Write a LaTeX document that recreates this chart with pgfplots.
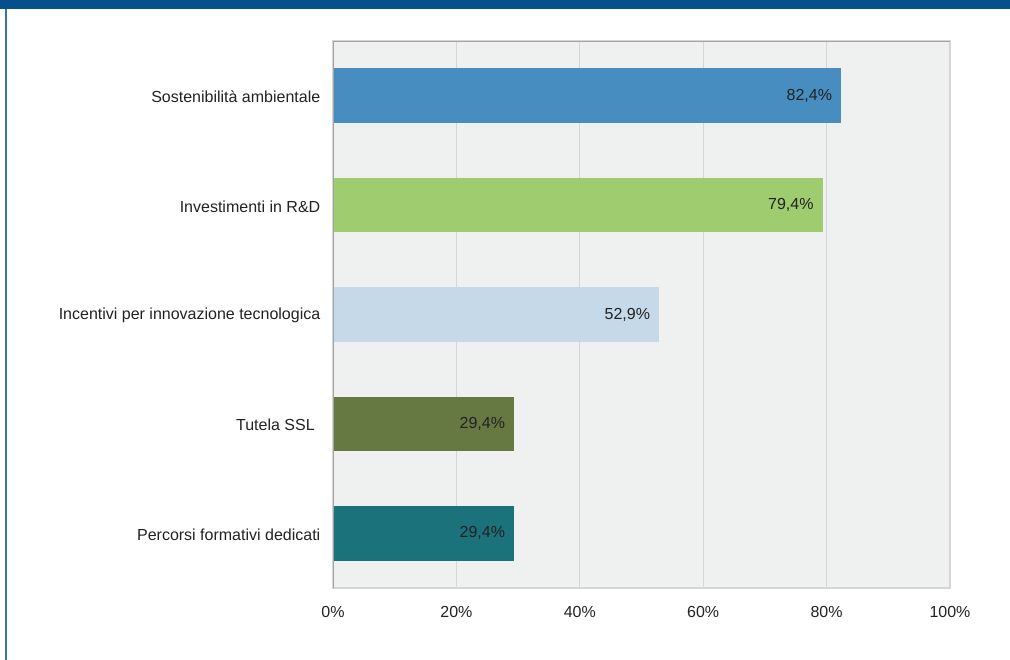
\documentclass[border=0pt]{standalone}
\usepackage{pgfplots}
\pgfplotsset{compat=1.18}
\usepackage{fontspec}
\setmainfont{Liberation Sans}

\definecolor{band}{HTML}{04508A}
\definecolor{frameline}{HTML}{3A72A0}
\definecolor{plotbg}{HTML}{EFF0F0}
\definecolor{gridc}{HTML}{D6D6D6}
\definecolor{axisc}{HTML}{A3A3A3}
\definecolor{cA}{HTML}{478DBF}
\definecolor{cB}{HTML}{9FCC6E}
\definecolor{cC}{HTML}{C5D9E8}
\definecolor{cD}{HTML}{677942}
\definecolor{cE}{HTML}{1C727A}
\definecolor{txt}{HTML}{222222}

\begin{document}
\begin{tikzpicture}[x=0.75pt,y=0.75pt]
% cornice della pagina (pixel a 0.75pt)
\useasboundingbox (0,0) rectangle (1010,660);
\fill[band] (0,651) rectangle (1010,660);
\draw[frameline, line width=1.2pt] (6,0) -- (6,651);

\begin{axis}[
    at={(249.75pt,54pt)}, anchor=south west,
    scale only axis,
    width=462.75pt, height=410.25pt,
    xbar, bar shift=0pt, bar width=0.5,
    xmin=0, xmax=100,
    ymin=-0.5, ymax=4.5,
    y dir=reverse,
    /pgf/number format/assume math mode=true,
    axis background/.style={fill=plotbg},
    axis line style={draw=gridc, line width=0.8pt},
    xmajorgrids, grid style={draw=gridc, line width=0.8pt},
    major tick length=0pt,
    xtick={0,20,40,60,80,100},
    xticklabel={\pgfmathprintnumber{\tick}\%},
    xticklabel style={font=\fontsize{12}{14}\selectfont, text=txt, yshift=-10pt},
    ytick={0,1,2,3,4},
    yticklabels={Sostenibilità ambientale, Investimenti in R\&D, Incentivi per innovazione tecnologica, Tutela SSL\makebox[0.35em]{}, Percorsi formativi dedicati},
    yticklabel style={font=\fontsize{12}{14}\selectfont, text=txt, xshift=-6pt, yshift=-1pt},
    nodes near coords={\pgfmathprintnumber[fixed, precision=1, zerofill, use comma]{\pgfplotspointmeta}\%},
    nodes near coords style={anchor=east, xshift=-3.5pt, font=\fontsize{12}{14}\selectfont, text=txt},
    point meta=x,
]
\addplot[fill=cA, draw=none] coordinates {(82.4,0)};
\addplot[fill=cB, draw=none] coordinates {(79.4,1)};
\addplot[fill=cC, draw=none] coordinates {(52.9,2)};
\addplot[fill=cD, draw=none] coordinates {(29.4,3)};
\addplot[fill=cE, draw=none] coordinates {(29.4,4)};
% assi sinistro e inferiore piu scuri
\draw[axisc, line width=0.9pt] (rel axis cs:0,0) -- (rel axis cs:0,1);
\draw[axisc, line width=0.9pt] (rel axis cs:0,1) -- (rel axis cs:1,1);
\end{axis}
\end{tikzpicture}
\end{document}
